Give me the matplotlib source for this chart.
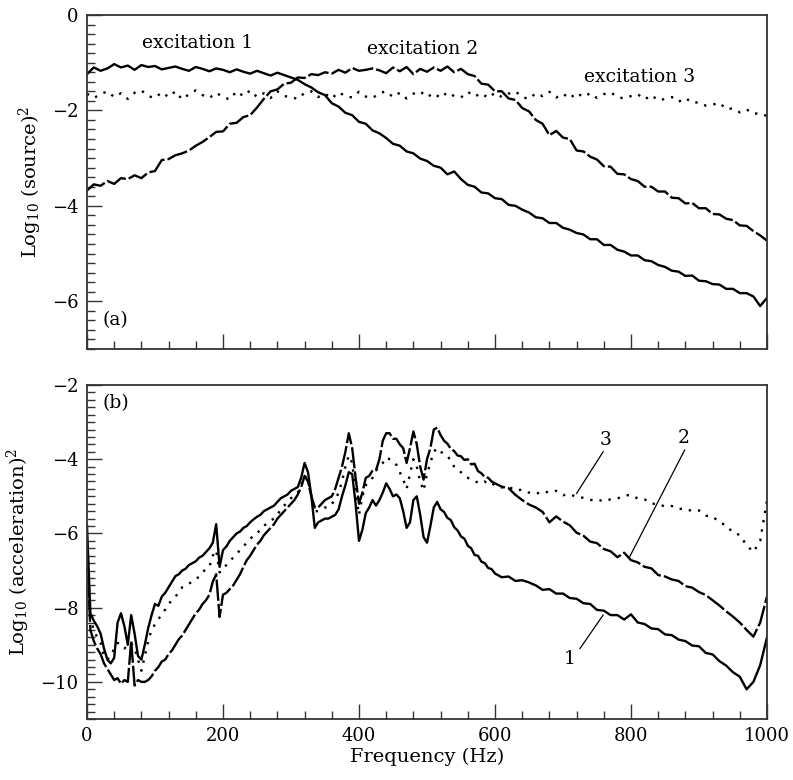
import numpy as np
import matplotlib
import matplotlib.pyplot as plt
from matplotlib.ticker import MultipleLocator

matplotlib.use('Agg')

plt.rcParams['font.family'] = ['DejaVu Serif']
plt.rcParams['mathtext.fontset'] = 'dejavuserif'

# ---- panel (a): source spectra, sampled every 10 Hz ----
freq_a = np.arange(0, 1001, 10)

src_1 = [-1.24, -1.10, -1.17, -1.12, -1.03, -1.10, -1.06, -1.15, -1.05, -1.09,
         -1.07, -1.14, -1.11, -1.08, -1.13, -1.17, -1.09, -1.13, -1.18, -1.12,
         -1.15, -1.20, -1.14, -1.19, -1.23, -1.17, -1.22, -1.27, -1.21, -1.26,
         -1.31, -1.36, -1.45, -1.52, -1.62, -1.68, -1.85, -1.92, -2.05, -2.10,
         -2.24, -2.28, -2.42, -2.48, -2.58, -2.70, -2.74, -2.86, -2.90, -3.01,
         -3.06, -3.16, -3.20, -3.34, -3.28, -3.44, -3.56, -3.60, -3.72, -3.74,
         -3.84, -3.86, -3.98, -4.00, -4.08, -4.14, -4.24, -4.26, -4.36, -4.36,
         -4.46, -4.50, -4.57, -4.60, -4.70, -4.70, -4.82, -4.82, -4.92, -4.96,
         -5.04, -5.04, -5.14, -5.16, -5.24, -5.28, -5.36, -5.38, -5.47, -5.46,
         -5.57, -5.58, -5.64, -5.65, -5.74, -5.74, -5.83, -5.83, -5.90, -6.10,
         -5.93]

src_2 = [-3.68, -3.55, -3.58, -3.48, -3.54, -3.42, -3.44, -3.36, -3.42, -3.30,
         -3.27, -3.04, -3.02, -2.94, -2.90, -2.84, -2.74, -2.66, -2.56, -2.45,
         -2.44, -2.28, -2.26, -2.14, -2.10, -1.94, -1.76, -1.60, -1.56, -1.44,
         -1.42, -1.31, -1.32, -1.24, -1.26, -1.20, -1.23, -1.15, -1.21, -1.11,
         -1.17, -1.15, -1.12, -1.16, -1.22, -1.10, -1.18, -1.09, -1.24, -1.13,
         -1.19, -1.10, -1.17, -1.08, -1.20, -1.13, -1.24, -1.28, -1.44, -1.46,
         -1.60, -1.60, -1.75, -1.78, -1.95, -2.02, -2.20, -2.28, -2.52, -2.43,
         -2.57, -2.60, -2.84, -2.86, -2.97, -3.03, -3.17, -3.18, -3.33, -3.34,
         -3.44, -3.48, -3.60, -3.60, -3.70, -3.70, -3.83, -3.84, -3.95, -3.94,
         -4.05, -4.05, -4.17, -4.18, -4.27, -4.30, -4.41, -4.42, -4.53, -4.62,
         -4.73]

src_3 = [-1.65, -1.74, -1.66, -1.60, -1.72, -1.64, -1.76, -1.63, -1.58, -1.70,
         -1.74, -1.62, -1.72, -1.60, -1.77, -1.66, -1.58, -1.68, -1.74, -1.63,
         -1.72, -1.77, -1.60, -1.70, -1.58, -1.72, -1.64, -1.74, -1.60, -1.70,
         -1.72, -1.76, -1.63, -1.60, -1.72, -1.65, -1.75, -1.62, -1.70, -1.73,
         -1.61, -1.71, -1.74, -1.64, -1.60, -1.72, -1.63, -1.75, -1.65, -1.60,
         -1.72, -1.64, -1.74, -1.62, -1.70, -1.73, -1.61, -1.71, -1.64, -1.74,
         -1.63, -1.72, -1.65, -1.60, -1.72, -1.76, -1.64, -1.70, -1.61, -1.73,
         -1.65, -1.75, -1.63, -1.72, -1.64, -1.74, -1.66, -1.62, -1.72, -1.75,
         -1.70, -1.66, -1.77, -1.68, -1.79, -1.76, -1.72, -1.82, -1.74, -1.84,
         -1.83, -1.90, -1.88, -1.84, -1.97, -1.96, -2.04, -1.98, -2.07, -2.06,
         -2.12]

# ---- panel (b): acceleration spectra, 5 Hz to 600 Hz then 10 Hz ----
freq_b = np.r_[np.arange(0, 600, 5), np.arange(600, 1001, 10)]

acc_1 = [-5.80, -8.15, -8.35, -8.50, -8.70, -9.10, -9.40, -9.50, -9.35, -8.40,
         -8.15, -8.50, -9.00, -8.20, -8.70, -9.30, -9.40, -9.00, -8.55, -8.20,
         -7.90, -7.95, -7.70, -7.60, -7.45, -7.30, -7.15, -7.10, -7.00, -6.95,
         -6.85, -6.80, -6.75, -6.65, -6.60, -6.50, -6.40, -6.25, -5.75, -6.90,
         -6.45, -6.35, -6.20, -6.10, -6.00, -5.95, -5.85, -5.80, -5.70, -5.62,
         -5.55, -5.50, -5.40, -5.35, -5.30, -5.25, -5.15, -5.05, -5.00, -4.95,
         -4.85, -4.80, -4.75, -4.50, -4.10, -4.35, -5.00, -5.85, -5.70, -5.65,
         -5.60, -5.60, -5.55, -5.50, -5.35, -5.00, -4.70, -4.35, -4.40, -5.20,
         -6.20, -5.90, -5.45, -5.30, -5.10, -5.25, -5.10, -4.90, -4.65, -4.80,
         -5.00, -4.95, -5.05, -5.40, -5.85, -5.70, -5.10, -5.00, -5.50, -6.10,
         -6.25, -5.80, -5.30, -5.15, -5.35, -5.42, -5.58, -5.64, -5.83, -5.92,
         -6.08, -6.14, -6.33, -6.40, -6.58, -6.60, -6.76, -6.80, -6.93, -6.96,
         -7.08, -7.18, -7.16, -7.28, -7.26, -7.32, -7.40, -7.52, -7.50, -7.62,
         -7.62, -7.74, -7.76, -7.88, -7.90, -8.06, -8.08, -8.20, -8.20, -8.32,
         -8.18, -8.40, -8.44, -8.56, -8.58, -8.72, -8.74, -8.86, -8.90, -9.02,
         -9.04, -9.22, -9.26, -9.44, -9.56, -9.74, -9.86, -10.20, -10.00, -9.55,
         -8.80]

acc_2 = [-6.50, -8.60, -8.90, -9.10, -9.25, -9.50, -9.65, -9.80, -9.95, -9.90,
         -10.05, -9.95, -10.00, -8.90, -10.10, -9.95, -10.00, -10.00, -9.95, -9.85,
         -9.70, -9.60, -9.45, -9.40, -9.25, -9.15, -9.00, -8.85, -8.75, -8.60,
         -8.45, -8.30, -8.15, -8.05, -7.90, -7.80, -7.65, -7.30, -7.10, -8.25,
         -7.65, -7.60, -7.50, -7.40, -7.25, -7.10, -6.90, -6.72, -6.60, -6.45,
         -6.30, -6.20, -6.05, -5.95, -5.85, -5.75, -5.60, -5.50, -5.40, -5.30,
         -5.20, -5.10, -4.95, -4.75, -4.45, -4.60, -5.00, -5.30, -5.30, -5.20,
         -5.10, -5.05, -5.00, -4.80, -4.50, -4.20, -3.80, -3.30, -3.70, -4.50,
         -5.20, -4.90, -4.50, -4.45, -4.30, -4.30, -4.00, -3.50, -3.30, -3.30,
         -3.45, -3.45, -3.60, -3.70, -4.10, -3.70, -3.25, -3.60, -4.20, -4.55,
         -4.00, -3.70, -3.20, -3.15, -3.35, -3.50, -3.58, -3.72, -3.78, -3.90,
         -3.92, -4.02, -4.00, -4.14, -4.12, -4.32, -4.38, -4.48, -4.50, -4.60,
         -4.65, -4.74, -4.78, -4.96, -5.10, -5.22, -5.30, -5.42, -5.70, -5.54,
         -5.68, -5.78, -5.98, -6.06, -6.22, -6.26, -6.42, -6.48, -6.64, -6.52,
         -6.72, -6.78, -6.90, -6.94, -7.12, -7.16, -7.24, -7.28, -7.42, -7.46,
         -7.58, -7.66, -7.80, -7.94, -8.10, -8.24, -8.40, -8.60, -8.78, -8.40,
         -7.70]

acc_3 = [-6.20, -8.30, -8.60, -8.80, -8.95, -9.30, -9.40, -9.30, -9.10, -8.95,
         -9.00, -9.10, -9.00, -8.95, -9.10, -9.40, -9.70, -9.30, -8.90, -8.60,
         -8.45, -8.30, -8.20, -8.05, -7.90, -7.80, -7.70, -7.60, -7.45, -7.40,
         -7.35, -7.30, -7.25, -7.15, -7.05, -6.95, -6.90, -6.60, -6.45, -7.05,
         -6.95, -6.85, -6.75, -6.65, -6.55, -6.45, -6.35, -6.25, -6.15, -6.05,
         -6.00, -5.90, -5.80, -5.72, -5.65, -5.60, -5.50, -5.35, -5.25, -5.15,
         -5.05, -4.95, -4.90, -4.70, -4.45, -4.55, -5.00, -5.40, -5.40, -5.35,
         -5.30, -5.30, -5.20, -5.10, -4.90, -4.60, -4.20, -3.90, -4.10, -4.90,
         -5.50, -5.00, -4.70, -4.60, -4.50, -4.30, -4.20, -4.10, -3.95, -4.00,
         -4.05, -4.15, -4.35, -4.55, -4.80, -4.40, -4.00, -4.20, -4.60, -4.85,
         -4.40, -4.10, -3.80, -3.70, -3.80, -3.85, -3.90, -4.05, -4.20, -4.30,
         -4.35, -4.45, -4.50, -4.55, -4.60, -4.62, -4.65, -4.60, -4.68, -4.65,
         -4.70, -4.76, -4.74, -4.84, -4.82, -4.90, -4.94, -4.86, -4.90, -4.85,
         -4.97, -4.94, -5.02, -5.04, -5.10, -5.08, -5.14, -5.08, -5.06, -4.98,
         -4.96, -5.06, -5.08, -5.20, -5.20, -5.28, -5.26, -5.34, -5.33, -5.40,
         -5.38, -5.52, -5.54, -5.70, -5.78, -5.98, -6.04, -6.32, -6.50, -6.20,
         -5.10]

solid = dict(color='black', lw=1.7, ls='-')
dashed = dict(color='black', lw=1.7, ls=(0, (9, 1.3)))
dotted = dict(color='black', lw=1.7, ls=(0, (1, 3)))

fig = plt.figure(figsize=(7.93, 7.80), dpi=100)
ax_a = fig.add_axes([0.1097, 0.5526, 0.8575, 0.4282])
ax_b = fig.add_axes([0.1097, 0.0782, 0.8575, 0.4282])

ax_a.plot(freq_a, src_1, **solid)
ax_a.plot(freq_a, src_2, **dashed)
ax_a.plot(freq_a, src_3, **dotted)

ax_b.plot(freq_b, acc_1, **solid)
ax_b.plot(freq_b, acc_2, **dashed)
ax_b.plot(freq_b, acc_3, **dotted)

ax_a.set_ylim(-7, 0)
ax_b.set_ylim(-11, -2)
for ax in (ax_a, ax_b):
    ax.set_xlim(0, 1000)
    ax.xaxis.set_major_locator(MultipleLocator(200))
    ax.xaxis.set_minor_locator(MultipleLocator(40))
    ax.yaxis.set_major_locator(MultipleLocator(2))
    ax.yaxis.set_minor_locator(MultipleLocator(0.2))
    ax.tick_params(which='both', direction='in', top=False, right=False,
                   labelsize=13, width=1.0, color='#333333')
    ax.tick_params(which='major', length=11, pad=6)
    ax.tick_params(which='minor', length=5.5)
    for sp in ax.spines.values():
        sp.set_linewidth(1.3)
        sp.set_color('#333333')

ax_a.tick_params(labelbottom=False)

ax_a.set_ylabel(r'Log$_{10}$ (source)$^2$', fontsize=14, labelpad=6)
ax_b.set_ylabel(r'Log$_{10}$ (acceleration)$^2$', fontsize=14, labelpad=6)
ax_b.set_xlabel('Frequency (Hz)', fontsize=14, labelpad=2)

ax_a.text(162, -0.59, 'excitation 1', fontsize=13.5, ha='center', va='center')
ax_a.text(494, -0.71, 'excitation 2', fontsize=13.5, ha='center', va='center')
ax_a.text(813, -1.30, 'excitation 3', fontsize=13.5, ha='center', va='center')
ax_a.text(23, -6.39, '(a)', fontsize=13.5, ha='left', va='center')
ax_b.text(23, -2.49, '(b)', fontsize=13.5, ha='left', va='center')

ax_b.text(762, -3.48, '3', fontsize=13.5, ha='center', va='center')
ax_b.plot([759, 720], [-3.80, -4.92], color='black', lw=0.9)
ax_b.text(877, -3.44, '2', fontsize=13.5, ha='center', va='center')
ax_b.plot([879, 798], [-3.75, -6.63], color='black', lw=0.9)
ax_b.text(710, -9.37, '1', fontsize=13.5, ha='center', va='center')
ax_b.plot([725, 759], [-9.10, -8.20], color='black', lw=0.9)

fig.savefig('out.png', dpi=100)
